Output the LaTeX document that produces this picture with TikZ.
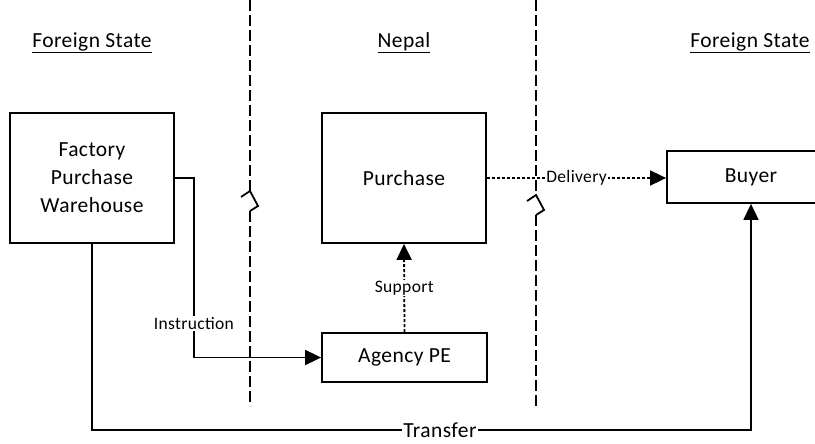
\documentclass[tikz,border=0pt]{standalone}
\usepackage{fontspec}
\setmainfont{Carlito}[LetterSpace=2]
\usetikzlibrary{arrows.meta}
\begin{document}
\begin{tikzpicture}[x=1pt,y=-1pt,
  box/.style={draw, line width=1.8pt, font=\fontsize{21.5}{28}\selectfont, align=center, inner sep=0pt},
  head/.style={font=\fontsize{21.5}{24}\selectfont},
  lbl/.style={font=\fontsize{17.5}{20}\selectfont, fill=white, inner sep=1pt},
  conn/.style={line width=1.8pt, -{Triangle[length=16pt,width=15pt]}},
  dotconn/.style={conn, dash pattern=on 3pt off 2pt},
  border/.style={line width=1.8pt, dash pattern=on 11pt off 4pt}]
\useasboundingbox (0,0) rectangle (815,444);
\clip (0,0) rectangle (815,444);
% borders between the states
\foreach \x/\y in {250/191, 536/195}{
  \draw[border] (\x,0) -- (\x,\y);
  \draw[line width=1.8pt] (\x-9,\y+6) -- (\x,\y) -- (\x+8,\y+15) -- (\x,\y+20);
  \draw[border] (\x,\y+20) -- (\x,406);
}
\node[head] (fs1) at (92,43) {\underline{Foreign State}};
\node[head] (np) at (404,43) {\underline{Nepal}};
\node[head] (fs2) at (750,43) {\underline{Foreign State}};
\node[box, minimum width=164pt, minimum height=130pt] (fpw) at (92,178) {Factory\\Purchase\\Warehouse};
\node[box, minimum width=164pt, minimum height=130pt] (pur) at (404,178) {Purchase};
\node[box, minimum width=168pt, minimum height=52pt] (buyer) at (751,177) {Buyer};
\node[box, minimum width=165pt, minimum height=49pt] (agency) at (404.5,357.5) {Agency PE};
\draw[dotconn] (pur.east |- 0,178) -- node[lbl] {Delivery} (buyer.west |- 0,178);
\draw[conn] (fpw.east) -- ++(19,0) |- node[lbl, pos=0.405] {Instruction} (agency.west);
\draw[dotconn] (agency.north) -- node[lbl] {Support} (pur.south);
\coordinate (tr) at (fpw.south |- 0,430);
\draw[conn] (fpw.south) -- (tr) -| node[lbl, pos=0.264, inner ysep=0pt, font=\fontsize{21.5}{24}\selectfont] {Transfer} (buyer.south);
\end{tikzpicture}
\end{document}
